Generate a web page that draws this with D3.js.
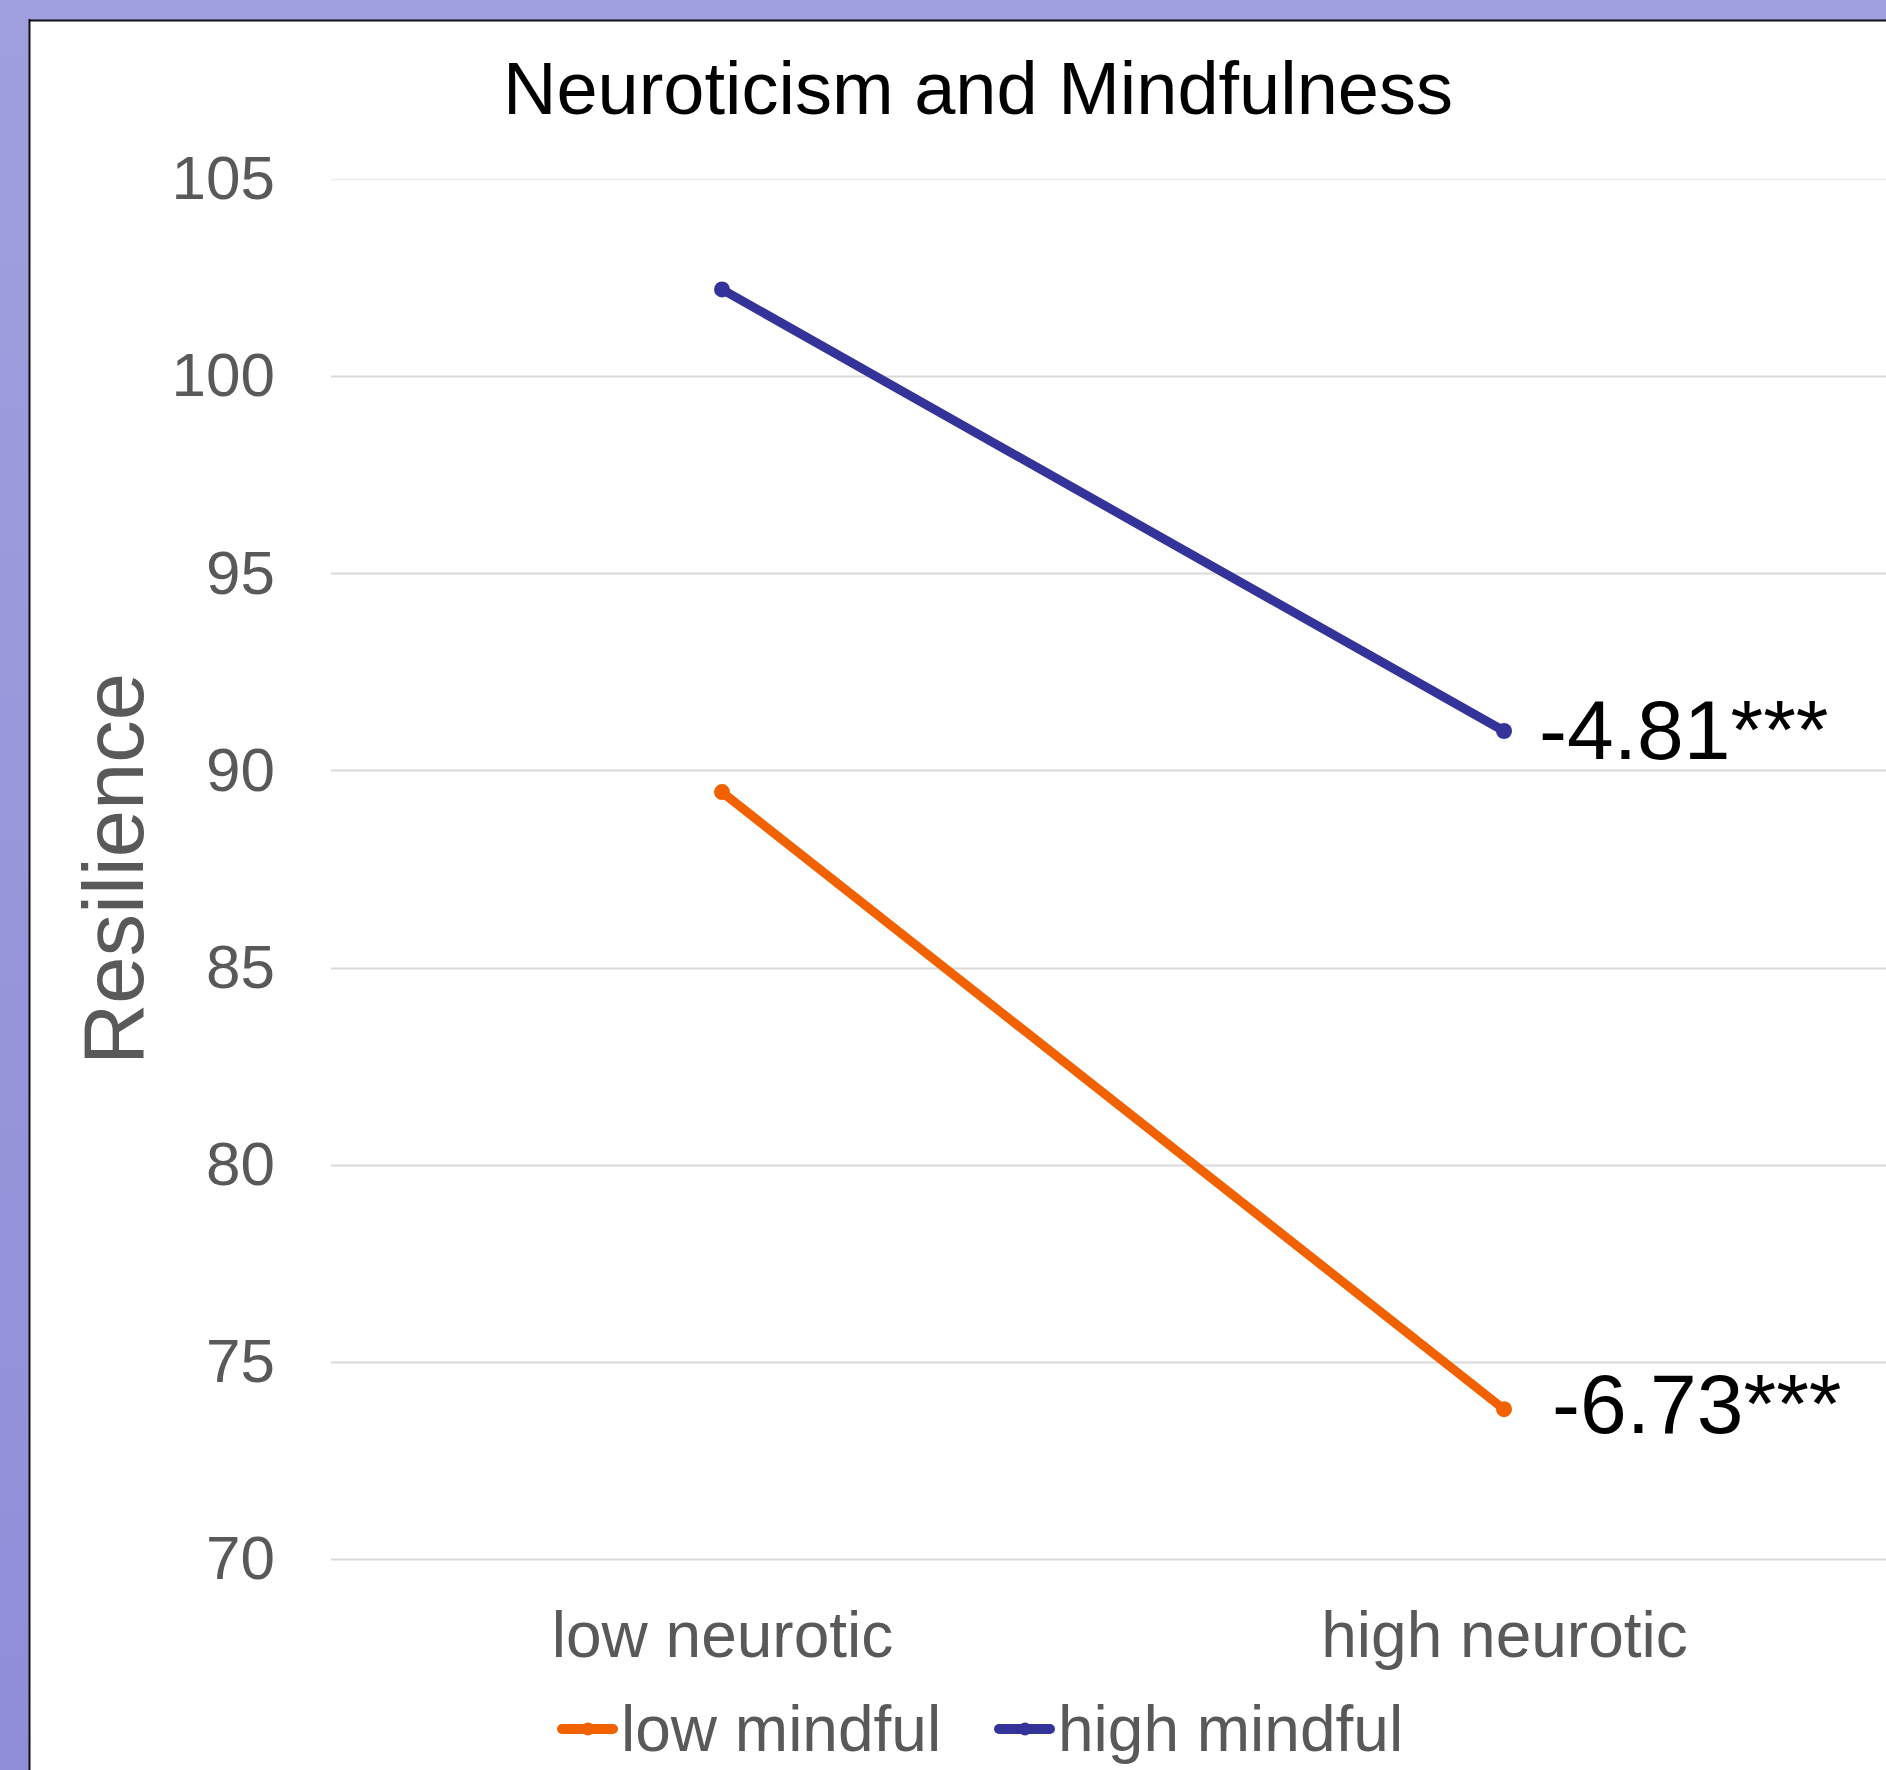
<!DOCTYPE html>
<html>
<head>
<meta charset="utf-8">
<script src="https://cdn.jsdelivr.net/npm/d3@7"></script>
<style>
  html, body { margin: 0; padding: 0; overflow: hidden; }
  svg { display: block; font-family: "Liberation Sans", Arial, sans-serif; }
</style>
</head>
<body>
<svg id="chart" width="1886" height="1770"></svg>
<script>
// ---- data ----
const categories = ["low neurotic", "high neurotic"];
const seriesNames = ["low mindful", "high mindful"];
const lowMindful = [89.45, 73.8];
const highMindful = [102.2, 91.0];
const yTicks = [70, 75, 80, 85, 90, 95, 100, 105];
const slopeLabels = ["-6.73***", "-4.81***"];
const title = "Neuroticism and Mindfulness";
const yTitle = "Resilience";

const colors = ["#F26100", "#333399"];
const series = [
  { name: seriesNames[0], values: lowMindful, color: colors[0], label: slopeLabels[0], lx: 48, ly: 24 },
  { name: seriesNames[1], values: highMindful, color: colors[1], label: slopeLabels[1], lx: 35, ly: 28 }
];

const W = 1886, H = 1770;
const svg = d3.select("#chart");

// background gradient
const defs = svg.append("defs");
const grad = defs.append("linearGradient").attr("id", "bg").attr("x1", 0).attr("y1", 0).attr("x2", 0).attr("y2", 1);
grad.append("stop").attr("offset", "0%").attr("stop-color", "#A09FDE");
grad.append("stop").attr("offset", "100%").attr("stop-color", "#8F8ED9");
svg.append("rect").attr("width", W).attr("height", H).attr("fill", "url(#bg)");

// chart area (white) with black left/top border
svg.append("rect").attr("x", 29).attr("y", 20).attr("width", W).attr("height", H).attr("fill", "#fff");
svg.append("line").attr("x1", 29.5).attr("x2", 29.5).attr("y1", 19).attr("y2", H).attr("stroke", "#111").attr("stroke-width", 2);
svg.append("line").attr("x1", 29).attr("x2", W).attr("y1", 20.5).attr("y2", 20.5).attr("stroke", "#111").attr("stroke-width", 2);

// scales
const plotLeft = 331, plotRight = 1895, plotTop = 179, plotBottom = 1559;
const x = d3.scalePoint().domain(categories).range([plotLeft, plotRight]).padding(0.5);
const y = d3.scaleLinear().domain([70, 105]).range([plotBottom, plotTop]);

// gridlines
svg.append("g").selectAll("line").data(yTicks).join("line")
  .attr("x1", plotLeft).attr("x2", plotRight)
  .attr("y1", d => Math.round(y(d)) + 0.5).attr("y2", d => Math.round(y(d)) + 0.5)
  .attr("stroke", d => d === 105 ? "#f0f0f0" : "#d9d9d9")
  .attr("stroke-width", 2);

// y axis using d3 axis (no domain/ticks lines)
const yAxis = svg.append("g")
  .attr("transform", `translate(${plotLeft},0)`)
  .call(d3.axisLeft(y).tickValues(yTicks).tickSize(0).tickPadding(56));
yAxis.select(".domain").remove();
yAxis.selectAll("text").attr("font-size", 62).attr("fill", "#595959")
  .attr("font-family", "Liberation Sans, Arial, sans-serif");

// x axis labels
const xAxis = svg.append("g")
  .attr("transform", `translate(0,${plotBottom})`)
  .call(d3.axisBottom(x).tickSize(0).tickPadding(0));
xAxis.select(".domain").remove();
xAxis.selectAll("text").attr("font-size", 64).attr("fill", "#595959")
  .attr("font-family", "Liberation Sans, Arial, sans-serif")
  .attr("dy", null).attr("y", 98);

// title
svg.append("text").attr("x", 978).attr("y", 114).attr("text-anchor", "middle")
  .attr("font-size", 74).attr("fill", "#000").text(title);

// y title
svg.append("text").attr("transform", `translate(143,${(plotTop + plotBottom) / 2}) rotate(-90)`)
  .attr("text-anchor", "middle").attr("font-size", 85).attr("fill", "#595959").text(yTitle);

// lines
const line = d3.line().x((d, i) => x(categories[i])).y(d => y(d));
series.forEach(s => {
  svg.append("path").datum(s.values).attr("d", line)
    .attr("fill", "none").attr("stroke", s.color).attr("stroke-width", 9)
    .attr("stroke-linecap", "round").attr("stroke-linejoin", "round");
  svg.append("g").selectAll("circle").data(s.values).join("circle")
    .attr("cx", (d, i) => x(categories[i])).attr("cy", d => y(d)).attr("r", 8)
    .attr("fill", s.color);
  const last = s.values.length - 1;
  svg.append("text")
    .attr("x", x(categories[last]) + s.lx)
    .attr("y", y(s.values[last]) + s.ly)
    .attr("font-size", 84).attr("fill", "#000").text(s.label);
});

// legend
const legendX = [558, 995];
const legend = svg.append("g");
series.forEach((s, i) => {
  const g = legend.append("g").attr("transform", `translate(${legendX[i]},1729)`);
  g.append("line").attr("x1", 4).attr("x2", 55).attr("y1", 0).attr("y2", 0)
    .attr("stroke", s.color).attr("stroke-width", 10).attr("stroke-linecap", "round");
  g.append("circle").attr("cx", 30).attr("cy", 0).attr("r", 6.5).attr("fill", s.color);
  g.append("text").attr("x", 63).attr("y", 22).attr("font-size", 64).attr("fill", "#595959").text(s.name);
});
</script>
</body>
</html>
